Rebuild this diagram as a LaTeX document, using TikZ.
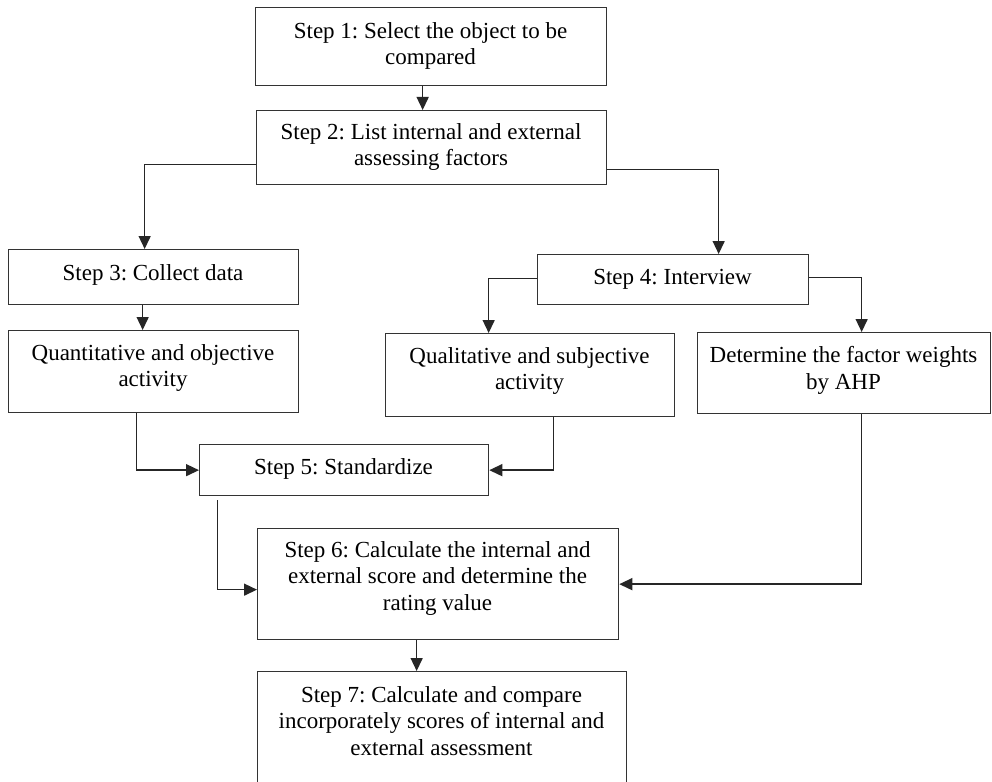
\documentclass[tikz,border=0pt]{standalone}
\usepackage{fontspec}
\setmainfont{Liberation Serif}
\usetikzlibrary{arrows.meta}
\frenchspacing
\begin{document}
\begin{tikzpicture}[x=1pt,y=-1pt,
  box/.style={draw=black!80, line width=1.3pt, rectangle, inner sep=0pt, anchor=north west},
  txt/.style={anchor=north, align=center, inner sep=0pt, font=\frenchspacing\fontsize{23}{26.5}\selectfont},
  arr/.style={draw=black!85, line width=1.4pt, -{Triangle[length=13pt,width=12pt]}}]
\useasboundingbox[fill=white] (0,0) rectangle (992,781);
% boxes
\node[box, minimum width=351pt, minimum height=78pt] (s1) at (255,7) {};
\node[box, minimum width=350pt, minimum height=74pt] (s2) at (256,110) {};
\node[box, minimum width=290pt, minimum height=55pt] (s3) at (8,249) {};
\node[box, minimum width=271pt, minimum height=50pt] (s4) at (537,254) {};
\node[box, minimum width=290pt, minimum height=82pt] (qa) at (8,330) {};
\node[box, minimum width=289pt, minimum height=83pt] (ql) at (385,333) {};
\node[box, minimum width=293pt, minimum height=81pt] (ahp) at (697,332) {};
\node[box, minimum width=289pt, minimum height=51pt] (s5) at (199,444) {};
\node[box, minimum width=361pt, minimum height=111pt] (s6) at (257,528) {};
\node[box, minimum width=369pt, minimum height=129pt] (s7) at (257,671) {};
% texts
\node[txt] (t1) at (430.5,22.3) {Step 1: Select the object to be\\compared};
\node[txt] (t2) at (431,123.3) {Step 2: List internal and external\\assessing factors};
\node[txt] (t3) at (153,264.3) {Step 3: Collect data};
\node[txt] (t4) at (672.5,269.3) {Step 4: Interview};
\node[txt] (t5) at (153,344.3) {Quantitative and objective\\activity};
\node[txt] (t6) at (529.5,347.3) {Qualitative and subjective\\activity};
\node[txt] (t7) at (843.5,346.3) {Determine the factor weights\\by AHP};
\node[txt] (t8) at (343.5,458.3) {Step 5: Standardize};
\node[txt] (t9) at (437.5,541.3) {Step 6: Calculate the internal and\\external score and determine the\\rating value};
\node[txt] (t10) at (441.5,686.3) {Step 7: Calculate and compare\\incorporately scores of internal and\\external assessment};
% connectors
\draw[arr] ([xshift=-8.5pt]s1.south) -- ([xshift=-8.5pt]s1.south |- s2.north);
\draw[arr] ([yshift=-17pt]s2.west) -| ([xshift=-9pt]s3.north);
\draw[arr] ([yshift=-22pt]s2.east) -| ([xshift=45.5pt]s4.north);
\draw[arr] ([xshift=-11pt]s3.south) -- ([xshift=-11pt]qa.north);
\draw[arr] ([yshift=1pt]s4.west) -| ([xshift=-41.5pt]ql.north);
\draw[arr] ([yshift=2pt]s4.east) -| ([xshift=17.5pt]ahp.north);
\draw[arr] ([xshift=-17pt]qa.south) |- (s5.west);
\draw[arr] ([xshift=23.5pt]ql.south) |- (s5.east);
\draw[arr] ([xshift=-126.5pt,yshift=-4pt]s5.south) |- ([yshift=-5.5pt]s6.west);
\draw[arr] ([xshift=17.5pt]ahp.south) |- (s6.east);
\draw[arr] ([xshift=-21.5pt]s6.south) -- ([xshift=-21.5pt]s6.south |- s7.north);
\end{tikzpicture}
\end{document}
